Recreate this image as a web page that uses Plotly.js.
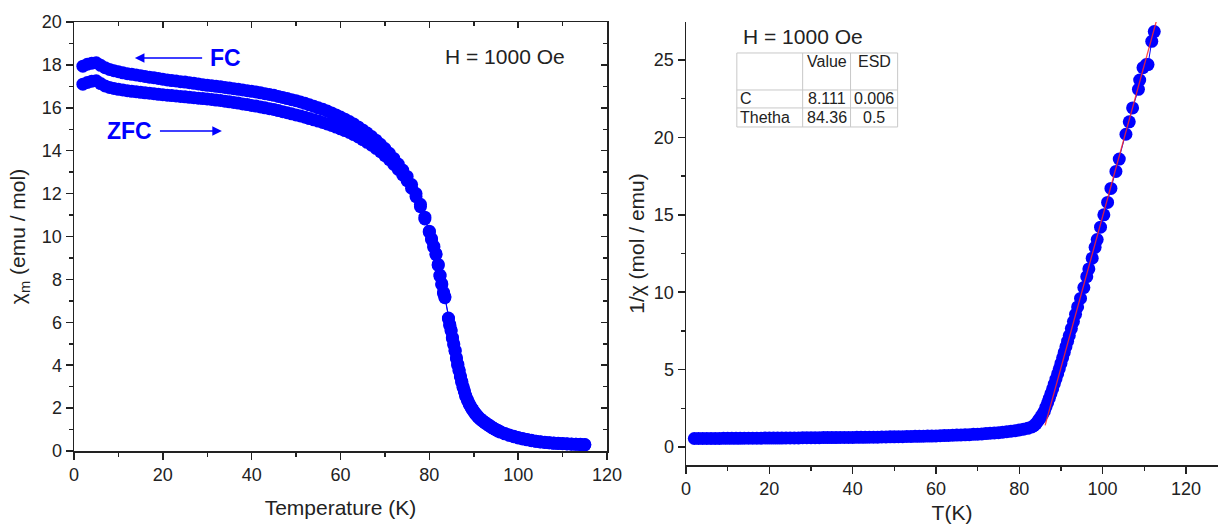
<!DOCTYPE html>
<html><head><meta charset="utf-8">
<script src="https://cdn.plot.ly/plotly-3.0.1.min.js"></script>
<style>html,body{margin:0;padding:0;background:#fff}#chart{width:1219px;height:524px}</style>
</head><body><div id="chart"></div>
<script>
// Left panel: chi_m vs T, field-cooled (FC) and zero-field-cooled (ZFC)
const fcT = [2,3,4,5,6,7,8,9,10,11,12,13,14,15,16,17,18,19,20,21,22,23,24,25,26,27,28,29,30,31,32,33,34,35,36,37,38,39,40,41,42,43,44,45,46,47,48,49,50,51,52,53,54,55,56,57,58,59,60,61,62,63,64,65,66,67,68,69,70,71,72,73,74,75,76,77,78,79,80,80.5,81,81.5,82,82.4,82.8,83.2,83.5,84.3,84.6,84.9,85.2,85.5,85.8,86.1,86.4,86.7,87.0,87.3,87.6,87.9,88.2,88.6,89.0,89.4,89.8,90.2,90.6,91.0,91.5,92.0,92.5,93,93.5,94,94.5,95,95.5,96,97,98,99,100,101,102,103,104,105,106,107,108,109,110,111,112,113,114,115];
const fcChi = [17.94,18.03,18.08,18.1,17.98,17.87,17.79,17.73,17.68,17.63,17.59,17.56,17.53,17.5,17.46,17.43,17.4,17.37,17.33,17.3,17.27,17.25,17.22,17.2,17.17,17.14,17.11,17.08,17.05,17.03,17.0,16.98,16.95,16.92,16.89,16.86,16.83,16.8,16.77,16.74,16.7,16.66,16.62,16.58,16.53,16.48,16.43,16.38,16.33,16.27,16.21,16.14,16.07,16.0,15.93,15.85,15.76,15.67,15.57,15.47,15.36,15.24,15.11,14.97,14.82,14.66,14.49,14.3,14.1,13.88,13.64,13.38,13.1,12.8,12.42,12.0,11.5,10.9,10.25,9.9,9.55,9.2,8.7,8.2,7.8,7.4,7.2,6.2,5.9,5.65,5.3,5.0,4.7,4.35,4.05,3.78,3.5,3.25,3.0,2.8,2.58,2.38,2.2,2.05,1.92,1.8,1.7,1.6,1.5,1.42,1.34,1.27,1.2,1.13,1.06,1.0,0.95,0.9,0.82,0.75,0.69,0.63,0.58,0.54,0.5,0.46,0.43,0.41,0.39,0.37,0.36,0.35,0.34,0.33,0.32,0.31,0.3];
const zfcT = [2,3,4,5,6,7,8,9,10,11,12,13,14,15,16,17,18,19,20,21,22,23,24,25,26,27,28,29,30,31,32,33,34,35,36,37,38,39,40,41,42,43,44,45,46,47,48,49,50,51,52,53,54,55,56,57,58,59,60,61,62,63,64,65,66,67,68,69,70,71,72,73,74,75,76,77,78,79,80,80.5,81,81.5,82,82.4,82.8,83.2,83.5,84.3,84.6,84.9,85.2,85.5,85.8,86.1,86.4,86.7,87.0,87.3,87.6,87.9,88.2,88.6,89.0,89.4,89.8,90.2,90.6,91.0,91.5,92.0,92.5,93,93.5,94,94.5,95,95.5,96,97,98,99,100,101,102,103,104,105,106,107,108,109,110,111,112,113,114,115];
const zfcChi = [17.1,17.18,17.24,17.26,17.13,17.02,16.95,16.9,16.86,16.83,16.8,16.77,16.75,16.72,16.7,16.68,16.66,16.63,16.61,16.59,16.57,16.55,16.53,16.51,16.49,16.47,16.45,16.43,16.41,16.39,16.36,16.34,16.31,16.28,16.25,16.22,16.18,16.15,16.11,16.08,16.04,16.0,15.96,15.92,15.87,15.82,15.77,15.72,15.67,15.62,15.56,15.5,15.44,15.38,15.32,15.25,15.18,15.1,15.02,14.94,14.85,14.75,14.64,14.52,14.39,14.26,14.11,13.95,13.77,13.58,13.36,13.13,12.87,12.6,12.25,11.86,11.39,10.82,10.2,9.85,9.5,9.15,8.65,8.15,7.75,7.35,7.15,6.15,5.85,5.6,5.25,4.95,4.65,4.3,4.0,3.73,3.45,3.2,2.96,2.76,2.55,2.35,2.17,2.02,1.89,1.77,1.67,1.57,1.47,1.39,1.31,1.24,1.17,1.1,1.04,0.98,0.93,0.88,0.8,0.73,0.67,0.61,0.56,0.52,0.48,0.45,0.42,0.4,0.38,0.36,0.35,0.34,0.33,0.32,0.31,0.3,0.29];

// Right panel: 1/chi vs T and Curie-Weiss fit line
const invT = [2,3,4,5,6,7,8,9,10,11,12,13,14,15,16,17,18,19,20,21,22,23,24,25,26,27,28,29,30,31,32,33,34,35,36,37,38,39,40,41,42,43,44,45,46,47,48,49,50,51,52,53,54,55,56,57,58,59,60,61,62,63,64,65,66,67,68,69,70,71,72,73,74,75,76,77,78,79,80,81,82,83,83.5,84,84.4,84.8,85.2,85.6,86.0,86.4,86.8,87.2,87.6,88.0,88.4,88.8,89.2,89.6,90.0,90.4,90.8,91.2,91.6,92.0,92.5,93.0,93.5,94.0,94.7,95.5,96.2,96.7,97.5,98.2,98.7,99.5,100.3,101.2,102.0,103.2,104.0,105.6,106.4,107.2,108.6,108.9,109.7,110.5,110.9,111.8,112.4];
const invChi = [0.55,0.55,0.55,0.55,0.55,0.55,0.55,0.56,0.56,0.56,0.56,0.56,0.57,0.57,0.57,0.57,0.57,0.58,0.58,0.58,0.58,0.58,0.59,0.59,0.59,0.59,0.6,0.6,0.6,0.6,0.6,0.61,0.61,0.61,0.61,0.62,0.62,0.62,0.62,0.63,0.63,0.63,0.64,0.64,0.64,0.65,0.65,0.66,0.66,0.67,0.67,0.68,0.68,0.69,0.69,0.7,0.71,0.71,0.72,0.73,0.74,0.75,0.76,0.77,0.78,0.79,0.8,0.82,0.83,0.85,0.87,0.89,0.91,0.93,0.96,0.99,1.02,1.06,1.1,1.15,1.21,1.3,1.38,1.5,1.65,1.8,1.95,2.12,2.3,2.58,2.86,3.15,3.45,3.75,4.07,4.39,4.72,5.05,5.4,5.76,6.12,6.48,6.84,7.2,7.65,8.1,8.57,9.05,9.6,10.3,11.0,11.5,12.2,12.9,13.4,14.2,15.0,15.8,16.7,17.8,18.6,20.2,21.0,21.9,23.1,23.7,24.5,24.7,24.7,26.2,26.83];
const fitT = [86.2, 112.9];
const fitInv = [1.4, 27.5];

// Fit table text
const tableHeader = ['', 'Value', 'ESD'];
const tableRows = [['C', '8.111', '0.006'], ['Thetha', '84.36', '0.5']];

const BLUE = '#0000ff';
const AX = '#222222';
const FONT = 'Liberation Sans, Arial, sans-serif';

const traces = [
  {x: zfcT, y: zfcChi, xaxis: 'x', yaxis: 'y', mode: 'lines+markers', name: 'ZFC',
   line: {color: BLUE, width: 1}, marker: {color: BLUE, size: 13}, showlegend: false},
  {x: fcT, y: fcChi, xaxis: 'x', yaxis: 'y', mode: 'lines+markers', name: 'FC',
   line: {color: BLUE, width: 1}, marker: {color: BLUE, size: 13}, showlegend: false},
  {x: [], y: [], xaxis: 'x3', yaxis: 'y', showlegend: false, hoverinfo: 'skip'},
  {x: [], y: [], xaxis: 'x', yaxis: 'y3', showlegend: false, hoverinfo: 'skip'},
  {x: invT, y: invChi, xaxis: 'x2', yaxis: 'y2', mode: 'lines+markers', name: '1/chi',
   line: {color: BLUE, width: 1}, marker: {color: BLUE, size: 13}, showlegend: false},
  {x: fitT, y: fitInv, xaxis: 'x2', yaxis: 'y2', mode: 'lines', name: 'fit',
   line: {color: 'rgba(255,40,40,0.85)', width: 1.3}, showlegend: false}
];

const W = 1219, H = 524;
const px = v => v / W, py = v => 1 - v / H;

const tickFont = {family: FONT, size: 18, color: AX};
const titleFont = {family: FONT, size: 21, color: AX};

function axBase(extra) {
  return Object.assign({
    showgrid: false, zeroline: false, showline: true, linecolor: AX, linewidth: 1.5,
    ticks: 'outside', ticklen: 7, tickwidth: 1.5, tickcolor: AX, tickfont: tickFont,
    automargin: false
  }, extra);
}

// Table grid (right-panel data coordinates)
const tx = [12.2, 28.0, 39.5, 50.8];
const ty = [25.45, 23.06, 21.9, 20.67];
const shapes = [];
const gl = {color: '#c8c8c8', width: 1};
shapes.push({type: 'rect', xref: 'x2', yref: 'y2', x0: tx[0], x1: tx[3], y0: ty[3], y1: ty[0], line: gl, fillcolor: 'rgba(0,0,0,0)'});
shapes.push({type: 'line', xref: 'x2', yref: 'y2', x0: tx[1], x1: tx[1], y0: ty[3], y1: ty[0], line: gl});
shapes.push({type: 'line', xref: 'x2', yref: 'y2', x0: tx[2], x1: tx[2], y0: ty[3], y1: ty[0], line: gl});
shapes.push({type: 'line', xref: 'x2', yref: 'y2', x0: tx[0], x1: tx[3], y0: ty[1], y1: ty[1], line: gl});
shapes.push({type: 'line', xref: 'x2', yref: 'y2', x0: tx[0], x1: tx[3], y0: ty[2], y1: ty[2], line: gl});

const tFont = {family: FONT, size: 16, color: AX};
const annotations = [
  {xref: 'x', yref: 'y', x: 97.0, y: 18.4, text: 'H = 1000 Oe', showarrow: false, font: {family: FONT, size: 21, color: AX}},
  {xref: 'x', yref: 'y', x: 13.7, y: 18.32, axref: 'x', ayref: 'y', ax: 30.2, ay: 18.32, text: '<b>FC</b>',
   xanchor: 'left', showarrow: true, arrowhead: 2, arrowsize: 1.2, arrowwidth: 1.6, arrowcolor: BLUE, startstandoff: 6,
   font: {family: FONT, size: 23, color: BLUE}},
  {xref: 'x', yref: 'y', x: 33.3, y: 14.92, axref: 'x', ayref: 'y', ax: 18.0, ay: 14.92, text: '<b>ZFC</b>',
   xanchor: 'right', showarrow: true, arrowhead: 2, arrowsize: 1.2, arrowwidth: 1.6, arrowcolor: BLUE, startstandoff: 6,
   font: {family: FONT, size: 23, color: BLUE}},
  {xref: 'x2', yref: 'y2', x: 28.0, y: 26.5, text: 'H = 1000 Oe', showarrow: false, font: {family: FONT, size: 21, color: AX}}
];
const colCenters = [null, (tx[1] + tx[2]) / 2, (tx[2] + tx[3]) / 2];
const rowY = [24.9, 22.48, 21.28];
for (let c = 1; c < 3; c++) {
  annotations.push({xref: 'x2', yref: 'y2', x: colCenters[c], y: rowY[0], text: tableHeader[c], showarrow: false, font: tFont});
}
tableRows.forEach((row, r) => {
  annotations.push({xref: 'x2', yref: 'y2', x: tx[0] + 0.3, y: rowY[r + 1], text: row[0], showarrow: false, xanchor: 'left', font: tFont});
  for (let c = 1; c < 3; c++) {
    annotations.push({xref: 'x2', yref: 'y2', x: colCenters[c], y: rowY[r + 1], text: row[c], showarrow: false, font: tFont});
  }
});

const layout = {
  width: W, height: H,
  margin: {l: 0, r: 0, t: 0, b: 0},
  paper_bgcolor: '#ffffff', plot_bgcolor: 'rgba(0,0,0,0)',
  font: {family: FONT, color: AX},
  showlegend: false,
  xaxis: axBase({domain: [px(74), px(607)], range: [0, 120], dtick: 20, anchor: 'y',
    minor: {dtick: 10, ticks: 'outside', ticklen: 4, tickwidth: 1.5, tickcolor: AX},
    title: {text: 'Temperature (K)', font: titleFont, standoff: 16}}),
  yaxis: axBase({domain: [py(451), py(22)], range: [0, 20], dtick: 2, anchor: 'x',
    minor: {dtick: 1, ticks: 'outside', ticklen: 4, tickwidth: 1.5, tickcolor: AX},
    title: {text: 'χ<sub>m</sub> (emu / mol)', font: titleFont, standoff: 10}}),
  xaxis3: axBase({overlaying: 'x', side: 'top', anchor: 'y', range: [0, 120], dtick: 20, ticks: 'inside', ticklen: 6,
    showticklabels: false, minor: {dtick: 10, ticks: 'inside', ticklen: 4, tickwidth: 1.5, tickcolor: AX}}),
  yaxis3: axBase({overlaying: 'y', side: 'right', anchor: 'x', range: [0, 20], dtick: 2, ticks: 'inside', ticklen: 6,
    showticklabels: false, minor: {dtick: 1, ticks: 'inside', ticklen: 4, tickwidth: 1.5, tickcolor: AX}}),
  xaxis2: axBase({domain: [px(686), px(1218)], range: [0, 127.7], dtick: 20, anchor: 'y2',
    minor: {dtick: 10, ticks: 'outside', ticklen: 4, tickwidth: 1.5, tickcolor: AX},
    title: {text: 'T(K)', font: titleFont, standoff: 9}}),
  yaxis2: axBase({domain: [py(465), py(22)], range: [-1.16, 27.45], tickvals: [0, 5, 10, 15, 20, 25], anchor: 'x2',
    minor: {tickvals: [2.5, 7.5, 12.5, 17.5, 22.5], ticks: 'outside', ticklen: 4, tickwidth: 1.5, tickcolor: AX},
    title: {text: '1/χ (mol / emu)', font: titleFont, standoff: 3}}),
  shapes: shapes,
  annotations: annotations
};

Plotly.newPlot('chart', traces, layout, {displayModeBar: false, staticPlot: true});
</script>
</body></html>
